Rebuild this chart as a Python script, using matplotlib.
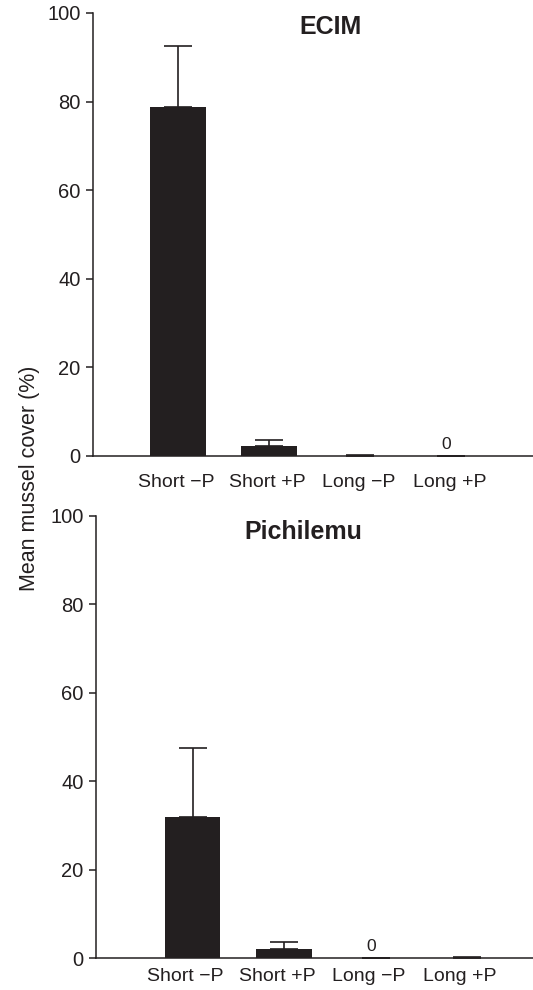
import numpy as np
import matplotlib
matplotlib.use("Agg")
import matplotlib.pyplot as plt

plt.rcParams["font.family"] = ["Liberation Sans", "DejaVu Sans"]

INK = "#231f20"

# data
treatments   = ["Short \u2212P", "Short +P", "Long \u2212P", "Long +P"]
ecim_mean    = [78.8, 2.2, 0.1, 0.0]
ecim_se      = [13.8, 1.4, 0.2, 0.0]
pichi_mean   = [31.9, 2.0, 0.0, 0.1]
pichi_se     = [15.5, 1.7, 0.0, 0.2]
zero_labels_ecim  = ["", "", "", "0"]
zero_labels_pichi = ["", "", "0", ""]
yticks = [0, 20, 40, 60, 80, 100]


def draw_panel(ax, means, se, zero_labels, title, title_xy, xlim, label_shift, xpad):
    x = np.arange(len(means))
    ax.bar(x, means, width=0.61, color=INK, edgecolor="none", zorder=2)
    lower = np.zeros(len(se))
    ax.errorbar(x, means, yerr=[lower, se], fmt="none", ecolor=INK,
                elinewidth=1.2, capsize=10, capthick=1.2, zorder=1)
    for xi, lab in zip(x, zero_labels):
        if lab:
            ax.annotate(lab, (xi - 0.05, 0), xytext=(0, 3), textcoords="offset points",
                        ha="center", va="bottom", fontsize=12.5, color=INK)

    ax.set_xlim(*xlim)
    ax.set_ylim(0, 100)
    ax.set_yticks(yticks)
    ax.set_xticks(x + label_shift)
    ax.set_xticklabels(treatments)
    ax.tick_params(axis="y", direction="out", length=5, width=1.1, pad=4,
                   labelsize=14.5, colors=INK)
    ax.tick_params(axis="x", length=0, pad=xpad, labelsize=14, colors=INK)
    for side in ["top", "right"]:
        ax.spines[side].set_visible(False)
    for side in ["left", "bottom"]:
        ax.spines[side].set_linewidth(1.1)
        ax.spines[side].set_color(INK)
    ax.text(title_xy[0], title_xy[1], title, transform=ax.transAxes,
            ha="center", va="center", fontsize=18, fontweight="bold", color=INK)


fig = plt.figure(figsize=(5.33, 9.9), dpi=100)
ax_top = fig.add_axes([0.1745, 0.5394, 0.8255, 0.4475])
ax_bot = fig.add_axes([0.180, 0.0323, 0.820, 0.4465])

draw_panel(ax_top, ecim_mean, ecim_se, zero_labels_ecim, "ECIM", (0.539, 0.968),
           (-0.934, 3.90), -0.02, 13)
draw_panel(ax_bot, pichi_mean, pichi_se, zero_labels_pichi, "Pichilemu", (0.474, 0.964),
           (-1.055, 3.72), -0.075, 7)

fig.text(0.0557, 0.517, "Mean mussel cover (%)", rotation=90, ha="center",
         va="center", fontsize=15.5, color=INK)

fig.savefig("out.png", dpi=100)
